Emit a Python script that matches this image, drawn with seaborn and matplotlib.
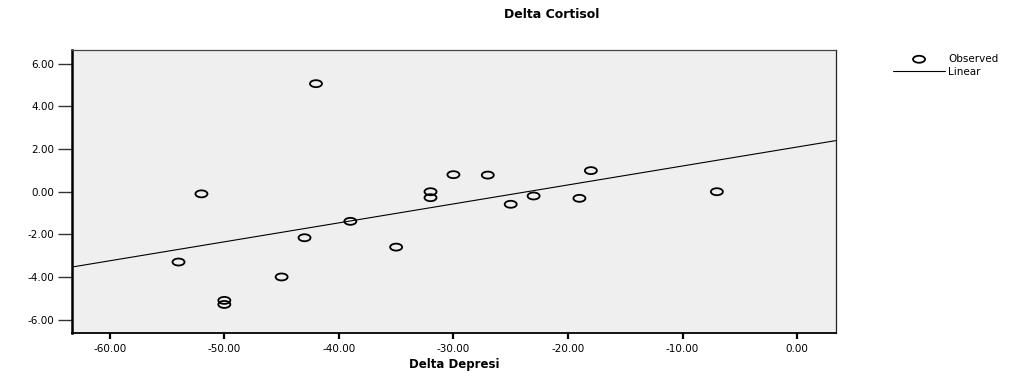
import numpy as np
import pandas as pd
import matplotlib
matplotlib.use("Agg")
import matplotlib.pyplot as plt
import seaborn as sns
from matplotlib.path import Path
from matplotlib.ticker import FormatStrFormatter

# Data
delta_depresi = [-42, -52, -32, -32, -30, -39, -43, -54, -50, -50, -45, -35, -27, -18, -25, -23, -19, -7]
delta_cortisol = [5.07, -0.10, 0.00, -0.28, 0.80, -1.39, -2.16, -3.30, -5.10, -5.29, -4.00, -2.60, 0.78, 0.99, -0.59, -0.20, -0.31, 0.00]
x_ticks = [-60, -50, -40, -30, -20, -10, 0]
y_ticks = [-6, -4, -2, 0, 2, 4, 6]

df = pd.DataFrame({"Delta Depresi": delta_depresi, "Delta Cortisol": delta_cortisol})

sns.set_theme(style="white")
plt.rcParams['font.family'] = ['DejaVu Sans']
plt.rcParams['text.color'] = 'black'
plt.rcParams['axes.labelcolor'] = 'black'
plt.rcParams['xtick.labelcolor'] = 'black'
plt.rcParams['ytick.labelcolor'] = 'black'

fig = plt.figure(figsize=(10.34, 3.76), dpi=100)
ax = fig.add_axes([72/1034, 43/376, (836-72)/1034, (333-50)/376])
ax.set_facecolor('#EFEFEF')
ax.set_xlim(-63.3, 3.4)
ax.set_ylim(-6.63, 6.65)

circ = Path.unit_circle()
ellipse = Path(circ.vertices * np.array([1.0, 0.58]), circ.codes)

sns.regplot(data=df, x="Delta Depresi", y="Delta Cortisol", ax=ax, ci=None,
            truncate=False, scatter=False, label='Linear',
            line_kws=dict(color='black', lw=0.8))
sns.scatterplot(data=df, x="Delta Depresi", y="Delta Cortisol", ax=ax,
                marker=ellipse, s=75, facecolor='none', edgecolor='black',
                linewidth=1.3, label='Observed', zorder=3)

ax.set_xticks(x_ticks)
ax.set_yticks(y_ticks)
ax.xaxis.set_major_formatter(FormatStrFormatter('%.2f'))
ax.yaxis.set_major_formatter(FormatStrFormatter('%.2f'))
ax.tick_params(axis='y', which='major', direction='out', length=10, width=1.0,
               color='#333333', labelcolor='black', labelsize=7.5, pad=3, left=True)
ax.tick_params(axis='x', which='major', direction='out', length=4, width=1.6,
               color='black', labelcolor='black', labelsize=7.5, pad=4, bottom=True)

ax.spines['left'].set_linewidth(1.8)
ax.spines['left'].set_color('black')
ax.spines['bottom'].set_linewidth(1.3)
ax.spines['bottom'].set_color('black')
ax.spines['top'].set_linewidth(0.9)
ax.spines['top'].set_color('#444444')
ax.spines['right'].set_linewidth(0.9)
ax.spines['right'].set_color('#222222')

ax.set_xlabel("Delta Depresi", fontsize=8.5, fontweight='bold', labelpad=3, color='black')
ax.set_ylabel("")

fig.text(552/1034, 1 - 15/376, "Delta Cortisol", ha='center', va='center',
         fontsize=9, fontweight='bold', color='black')

handles, labels = ax.get_legend_handles_labels()
wanted = ['Observed', 'Linear']
pairs = [(h, l) for w in wanted for h, l in zip(handles, labels) if l == w]
leg = ax.legend([p[0] for p in pairs], [p[1] for p in pairs],
                loc='upper left', bbox_to_anchor=(893/1034, 1 - 54/376),
                bbox_transform=fig.transFigure, frameon=False, fontsize=7.5,
                handlelength=5, handletextpad=0.3, labelspacing=0.3,
                borderpad=0, borderaxespad=0)
for t in leg.get_texts():
    t.set_color('black')

fig.savefig("out.png", dpi=100, facecolor='white')
